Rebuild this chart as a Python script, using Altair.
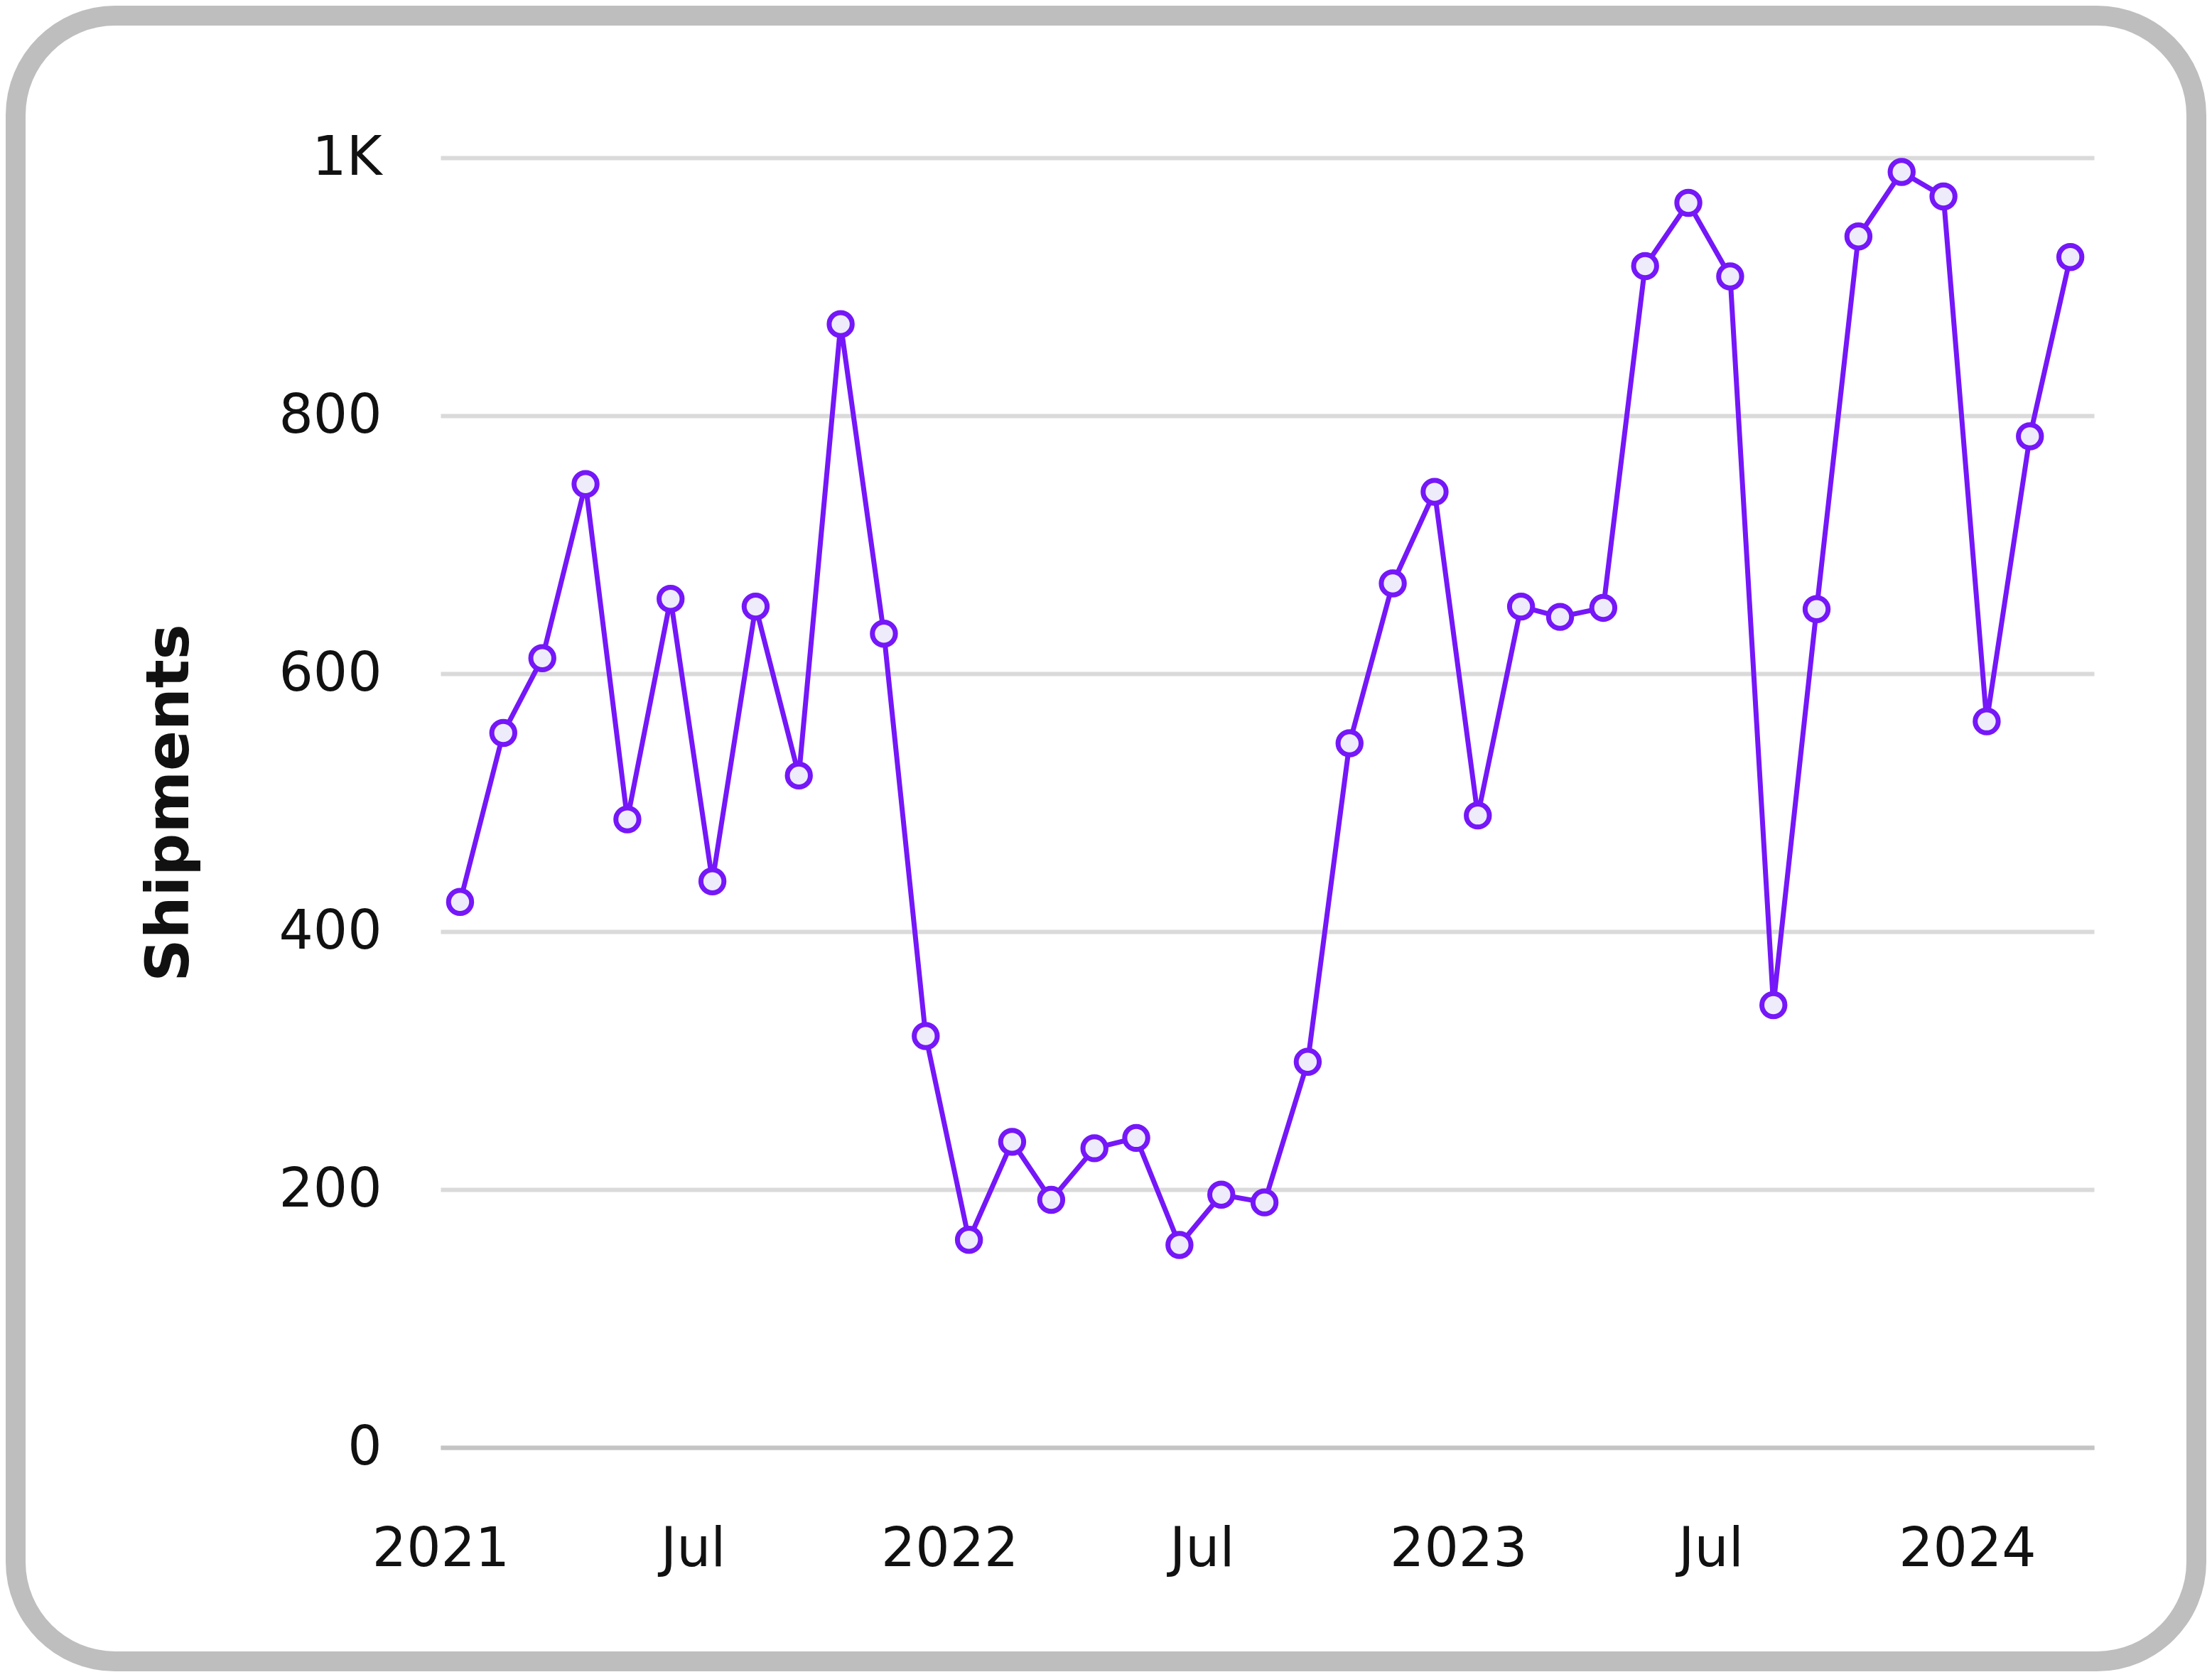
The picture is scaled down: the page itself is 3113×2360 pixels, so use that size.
import altair as alt
import pandas as pd

months = [
    "2021-01-15", "2021-02-15", "2021-03-15", "2021-04-15", "2021-05-15", "2021-06-15",
    "2021-07-15", "2021-08-15", "2021-09-15", "2021-10-15", "2021-11-15", "2021-12-15",
    "2022-01-15", "2022-02-15", "2022-03-15", "2022-04-15", "2022-05-15", "2022-06-15",
    "2022-07-15", "2022-08-15", "2022-09-15", "2022-10-15", "2022-11-15", "2022-12-15",
    "2023-01-15", "2023-02-15", "2023-03-15", "2023-04-15", "2023-05-15", "2023-06-15",
    "2023-07-15", "2023-08-15", "2023-09-15", "2023-10-15", "2023-11-15", "2023-12-15",
    "2024-01-15", "2024-02-15", "2024-03-15",
]
shipments = [
    423, 554, 612, 747, 487, 658, 439, 652, 521, 871, 631, 319,
    161, 237, 192, 232, 240, 157, 196, 190, 299, 546, 670, 741,
    490, 652, 644, 651, 916, 965, 908, 343, 650, 939, 989, 970,
    563, 784, 923,
]
y_ticks = [0, 200, 400, 600, 800, 1000]

df = pd.DataFrame({"month": months, "shipments": shipments})

PURPLE = "#7517f8"
FONT = "DejaVu Sans"

x_enc = alt.X(
    "month:T",
    scale=alt.Scale(
        type="utc",
        domain=[
            alt.DateTime(year=2021, month=1, date=1, utc=True),
            alt.DateTime(year=2024, month=4, date=1, utc=True),
        ],
        nice=False,
    ),
    axis=alt.Axis(
        title=None,
        tickCount={"interval": "month", "step": 6},
        labelExpr="utcmonth(datum.value) == 0 ? utcFormat(datum.value, '%Y') : utcFormat(datum.value, '%b')",
        labelFont=FONT,
        labelFontSize=76,
        labelColor="#111111",
        labelPadding=106,
        labelLimit=1000,
        ticks=False,
        tickSize=0,
        grid=False,
        domain=True,
        domainColor="#c4c4c4",
        domainWidth=6,
        labelFlush=False,
        labelOverlap=False,
    ),
)
y_enc = alt.Y(
    "shipments:Q",
    scale=alt.Scale(domain=[0, 1000], nice=False, zero=True),
    axis=alt.Axis(
        title="Shipments",
        titleFont=FONT,
        titleFontSize=84,
        titleFontWeight="bold",
        titleColor="#111111",
        titlePadding=138,
        titleLimit=2000,
        values=y_ticks,
        labelExpr="datum.value >= 1000 ? format(datum.value / 1000, 'd') + 'K' : format(datum.value, 'd')",
        labelFont=FONT,
        labelFontSize=76,
        labelColor="#111111",
        labelPadding=83,
        labelLimit=1000,
        ticks=False,
        tickSize=0,
        domain=False,
        grid=True,
        gridColor="#dadada",
        gridWidth=6,
    ),
)

base = alt.Chart(df).encode(x=x_enc, y=y_enc)
line = base.mark_line(color=PURPLE, strokeWidth=7)
points = base.mark_point(
    shape="circle", filled=True, fill="#eeecfb", stroke=PURPLE,
    strokeWidth=7, size=1050, opacity=1, fillOpacity=1, strokeOpacity=1,
)

border = alt.Chart(alt.Data(values=[{}])).mark_rect(
    fill="white", fillOpacity=0, stroke="#bebebe", strokeWidth=28, cornerRadius=140,
).encode(
    x=alt.value(-598), x2=alt.value(2471),
    y=alt.value(-200), y2=alt.value(2116),
)

chart = alt.layer(border, line, points).properties(
    width=2327, height=1815, padding=0, background="white",
).configure_view(stroke=None)

chart.save("out.html", embed_options={"renderer": "svg", "actions": False})
